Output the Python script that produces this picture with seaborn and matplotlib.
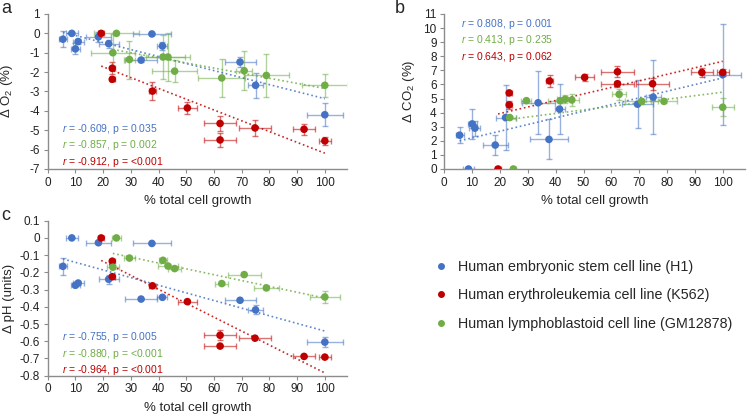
import numpy as np
import pandas as pd
import matplotlib.pyplot as plt
from matplotlib.lines import Line2D
import seaborn as sns

# data ----------------------------------------------------------------------------------
# H1 (blue)
h1_growth = [5.5, 8.7, 10, 11, 18.3, 22, 33.7, 37.6, 41.4, 69.4, 75, 100]
h1_growth_err = [1.4, 2.1, 1.6, 2.0, 4.5, 3.6, 5.9, 6.8, 1.8, 5.6, 2.7, 6.6]
h1_o2 = [-0.3, 0, -0.8, -0.42, -0.18, -0.53, -1.38, -0.03, -0.65, -1.48, -2.68, -4.2]
h1_o2_err = [0.41, 0.05, 0.28, 0.15, 0.25, 0.2, 0.1, 0.05, 0.2, 0.26, 0.64, 0.6]
h1_co2 = [2.4, 0, 3.2, 2.9, 1.7, 3.65, 4.7, 2.1, 4.25, 4.6, 5.1, 6.7]
h1_co2_err = [0.55, 0, 1.07, 0.53, 0.7, 2.28, 2.23, 1.42, 1.76, 1.7, 2.64, 3.6]
h1_ph = [-0.165, 0, -0.275, -0.262, -0.028, -0.24, -0.355, -0.032, -0.345, -0.362, -0.418, -0.605]
h1_ph_err = [0.048, 0, 0.012, 0.012, 0, 0.027, 0, 0, 0.005, 0, 0.026, 0.031]

# K562 (red)
k562_growth = [19.3, 23.3, 23.3, 37.8, 50.4, 62.2, 62.2, 74.8, 92.5, 100]
k562_growth_err = [1.0, 0.9, 0.9, 1.2, 3.3, 5.9, 5.9, 5.8, 3.9, 2.2]
k562_o2 = [0, -1.8, -2.37, -2.98, -3.85, -4.65, -5.5, -4.88, -4.95, -5.55]
k562_o2_err = [0, 0.3, 0.08, 0.46, 0.3, 0.41, 0.38, 0.4, 0.27, 0.2]
k562_co2 = [0, 5.4, 4.55, 6.25, 6.5, 6.9, 6.05, 6.05, 6.85, 6.85]
k562_co2_err = [0, 0.15, 0.28, 0.45, 0.27, 0.4, 0.2, 0.44, 0.3, 0.25]
k562_ph = [0, -0.135, -0.225, -0.278, -0.37, -0.565, -0.628, -0.582, -0.688, -0.692]
k562_ph_err = [0, 0.005, 0.012, 0.01, 0.01, 0.03, 0.005, 0.005, 0.005, 0.005]

# GM12878 (green)
gm_growth = [24.8, 23.5, 29.5, 41.6, 43.4, 45.8, 62.8, 70.9, 78.9, 100]
gm_growth_err_a = [8, 8, 2, 8, 8, 8, 8.5, 3, 8.2, 8.3]
gm_growth_err_b = [1.0, 2.1, 1.8, 4.4, 3.0, 2.5, 2.4, 6.0, 4.7, 3.9]
gm_growth_err_c = [1.6, 2.1, 1.9, 1.6, 3.6, 2.4, 2.3, 6.0, 4.5, 5.4]
gm_o2 = [0, -1.0, -1.35, -1.22, -1.22, -1.95, -2.3, -1.93, -2.17, -2.68]
gm_o2_err = [0.05, 0.95, 0.98, 1.15, 1.25, 0.55, 0.96, 1.0, 1.1, 0.6]
gm_co2 = [0, 3.65, 4.85, 4.85, 4.95, 4.9, 5.3, 4.8, 4.8, 4.38]
gm_co2_err = [0, 0.1, 0.1, 0.2, 0.3, 0.4, 0.4, 0.2, 0.15, 0.63]
gm_ph = [0, -0.17, -0.117, -0.13, -0.163, -0.178, -0.265, -0.213, -0.29, -0.343]
gm_ph_err = [0, 0.01, 0.005, 0.01, 0.01, 0.01, 0.01, 0.005, 0.01, 0.034]

stats_a = ['$r$ = -0.609, p = 0.035', '$r$ = -0.857, p = 0.002', '$r$ = -0.912, p = <0.001']
stats_b = ['$r$ = 0.808, p = 0.001', '$r$ = 0.413, p = 0.235', '$r$ = 0.643, p = 0.062']
stats_c = ['$r$ = -0.755, p = 0.005', '$r$ = -0.880, p = <0.001', '$r$ = -0.964, p = <0.001']

line_names = ['Human embryonic stem cell line (H1)',
              'Human erythroleukemia cell line (K562)',
              'Human lymphoblastoid cell line (GM12878)']
colors = ['#4472C4', '#C00000', '#70AD47']

# long table ---------------------------------------------------------------------------
rows = []
def add(line, panel, x, xe, y, ye):
    for a, b, c, d in zip(x, xe, y, ye):
        rows.append(dict(line=line, panel=panel, growth=a, growth_err=b, value=c, err=d))

add('H1', 'a', h1_growth, h1_growth_err, h1_o2, h1_o2_err)
add('H1', 'b', h1_growth, h1_growth_err, h1_co2, h1_co2_err)
add('H1', 'c', h1_growth, h1_growth_err, h1_ph, h1_ph_err)
add('K562', 'a', k562_growth, k562_growth_err, k562_o2, k562_o2_err)
add('K562', 'b', k562_growth, k562_growth_err, k562_co2, k562_co2_err)
add('K562', 'c', k562_growth, k562_growth_err, k562_ph, k562_ph_err)
add('GM12878', 'a', gm_growth, gm_growth_err_a, gm_o2, gm_o2_err)
add('GM12878', 'b', gm_growth, gm_growth_err_b, gm_co2, gm_co2_err)
add('GM12878', 'c', gm_growth, gm_growth_err_c, gm_ph, gm_ph_err)
df = pd.DataFrame(rows)

# style --------------------------------------------------------------------------------
sns.set_style('ticks')
plt.rcParams['font.family'] = ['Liberation Sans', 'DejaVu Sans']
plt.rcParams['mathtext.fontset'] = 'custom'
plt.rcParams['mathtext.rm'] = 'Liberation Sans'
plt.rcParams['mathtext.it'] = 'Liberation Sans:italic'
GREY = '#8c8c8c'

fig = plt.figure(figsize=(7.49, 4.17), dpi=100)
W, H = 749, 417
def box(l, t, r, b):
    return [l / W, 1 - b / H, (r - l) / W, (b - t) / H]

ax_a = fig.add_axes(box(47.7, 14, 347, 169))
ax_b = fig.add_axes(box(444.3, 14, 745, 169))
ax_c = fig.add_axes(box(47.7, 220.7, 347, 375.7))

def draw(ax, key, ylim, yticks, ylabel, stats, stat_xy, ylab_x):
    order = ['H1', 'K562', 'GM12878']
    for name, col in zip(order, colors):
        sub = df[(df.panel == key) & (df.line == name)]
        ax.errorbar(sub.growth, sub.value, xerr=sub.growth_err, yerr=sub.err, fmt='none',
                    ecolor=col, alpha=0.55, elinewidth=1, capsize=2, capthick=1, zorder=1)
        sns.regplot(data=sub, x='growth', y='value', scatter=False, ci=None, truncate=True,
                    ax=ax, line_kws=dict(color=col, ls=':', lw=1.2, alpha=0.85, zorder=2))
        sns.scatterplot(data=sub, x='growth', y='value', color=col, s=30, edgecolor='none',
                        ax=ax, zorder=3, legend=False)
    ax.set_xlim(0, 108)
    ax.set_xticks(range(0, 101, 10))
    ax.set_ylim(*ylim)
    ax.set_yticks(yticks)
    ax.set_yticklabels([f'{round(v, 1) + 0:g}' for v in yticks])
    ax.set_xlabel('% total cell growth', fontsize=9.5)
    ax.set_ylabel(ylabel, fontsize=9.5)
    ax.yaxis.set_label_coords(ylab_x, 0.5)
    ax.xaxis.set_label_coords(0.5, -0.17)
    ax.tick_params(labelsize=8.5, colors=GREY, labelcolor='#222222', length=3, width=0.8, pad=2.5)
    sns.despine(ax=ax)
    for s in ['left', 'bottom']:
        ax.spines[s].set_color(GREY)
        ax.spines[s].set_linewidth(1)
    for i, (t, col) in enumerate(zip(stats, [colors[0], colors[2], colors[1]])):
        ax.text(stat_xy[0], stat_xy[1] - i * 0.105, t, color=col, fontsize=7.5,
                transform=ax.transAxes, va='center', ha='left')

draw(ax_a, 'a', (-7, 1), list(range(-7, 2)), 'Δ O$_2$ (%)', stats_a, (0.048, 0.257), -0.108)
draw(ax_b, 'b', (0, 11), list(range(0, 12)), 'Δ CO$_2$ (%)', stats_b, (0.055, 0.935), -0.09)
draw(ax_c, 'c', (-0.8, 0.1), [round(v, 1) for v in np.arange(-0.8, 0.15, 0.1)],
     'Δ pH (units)', stats_c, (0.048, 0.247), -0.108)

for lab, x, y in [('a', 1, 13), ('b', 395, 13), ('c', 1, 220)]:
    fig.text(x / W, 1 - y / H, lab, fontsize=13, va='baseline', ha='left')

handles = [Line2D([], [], ls='none', marker='o', ms=4, color=c) for c in colors]
fig.legend(handles, line_names, loc='upper left', bbox_to_anchor=(437 / W, 1 - 260 / H),
           frameon=False, fontsize=10.3, handlelength=0.6, handletextpad=0.9,
           labelspacing=1.0, borderpad=0, borderaxespad=0)

fig.savefig('out.png', dpi=100)
